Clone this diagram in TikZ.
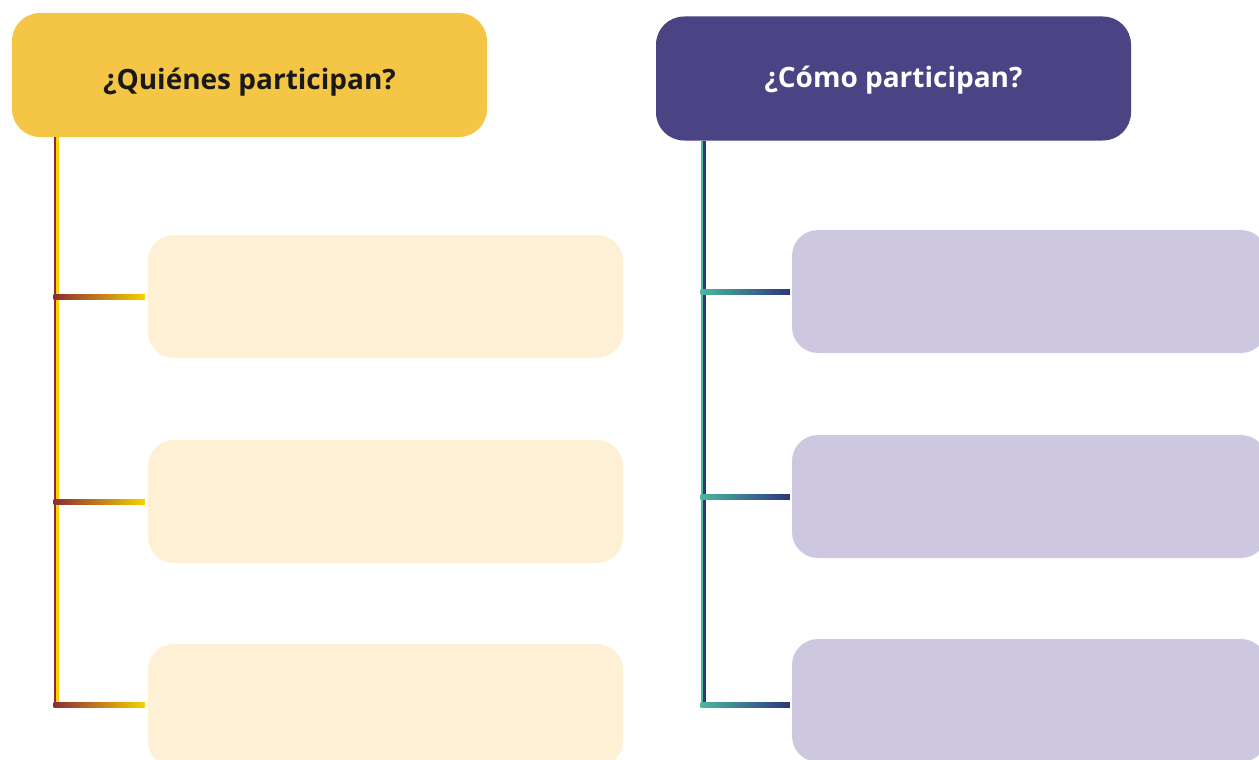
\documentclass[tikz,border=0pt]{standalone}
\usepackage{fontspec}
\setmainfont{Open Sans}
\usetikzlibrary{calc}
\definecolor{qyel}{HTML}{F5C546}
\definecolor{cpur}{HTML}{4A4484}
\definecolor{lbox}{HTML}{FDF0D5}
\definecolor{rbox}{HTML}{CDC8E0}
\definecolor{lred}{HTML}{8E2A33}
\definecolor{lyel}{HTML}{F5D200}
\definecolor{rteal}{HTML}{4BB8A0}
\definecolor{rnavy}{HTML}{2E3580}
\tikzset{
  head/.style={rounded corners=28pt, minimum width=475pt, minimum height=124pt, inner sep=0pt,
    font=\fontsize{28}{32}\selectfont\bfseries},
  subbox/.style={rounded corners=26pt, minimum width=475pt, minimum height=123pt, inner sep=0pt},
}
\begin{document}
\begin{tikzpicture}[x=1pt,y=-1pt]
\useasboundingbox (0,0) rectangle (1259,760);
\clip (0,0) rectangle (1259,760);
% headers
\node[head, fill=qyel, text=black!90] (q) at (249.5,75) {\raisebox{-15pt}[0pt][0pt]{¿Quiénes participan?}};
\node[head, fill=cpur, text=white] (c) at (893.5,78.5) {\raisebox{-9pt}[0pt][0pt]{¿Cómo participan?}};
% boxes
\node[subbox, fill=lbox] (l1) at (385.5,296.5) {};
\node[subbox, fill=lbox] (l2) at (385.5,501.5) {};
\node[subbox, fill=lbox] (l3) at (385.5,705.5) {};
\node[subbox, fill=rbox] (r1) at (1029.5,291.5) {};
\node[subbox, fill=rbox] (r2) at (1029.5,496.5) {};
\node[subbox, fill=rbox] (r3) at (1029.5,700.5) {};
% trunks
\coordinate (lt) at (56,0);
\coordinate (rt) at (703,0);
\fill[lred] ($(lt |- q.south)+(-2.5,0)$) rectangle ($(lt |- l3.west)+(0,1.5)$);
\fill[lyel] ($(lt |- q.south)$) rectangle ($(lt |- l3.west)+(2.5,1.5)$);
\fill[rteal] ($(rt |- c.south)+(-2.5,0)$) rectangle ($(rt |- r3.west)+(0,6.5)$);
\fill[rnavy] ($(rt |- c.south)$) rectangle ($(rt |- r3.west)+(2.5,6.5)$);
% branches
\foreach \b in {l1,l2}{
  \shade[left color=lred, right color=lyel] ($(lt |- \b.west)+(-2.5,-2.5)$) rectangle ($(\b.west)+(-3,2.5)$);
}
\shade[left color=lred, right color=lyel] ($(lt |- l3.west)+(-2.5,-3.5)$) rectangle ($(l3.west)+(-3,1.5)$);
\foreach \b in {r1,r2}{
  \shade[left color=rteal, right color=rnavy] ($(rt |- \b.west)+(-2.5,-2.5)$) rectangle ($(\b.west)+(-2,2.5)$);
}
\shade[left color=rteal, right color=rnavy] ($(rt |- r3.west)+(-2.5,1.5)$) rectangle ($(r3.west)+(-2,6.5)$);
\end{tikzpicture}
\end{document}
